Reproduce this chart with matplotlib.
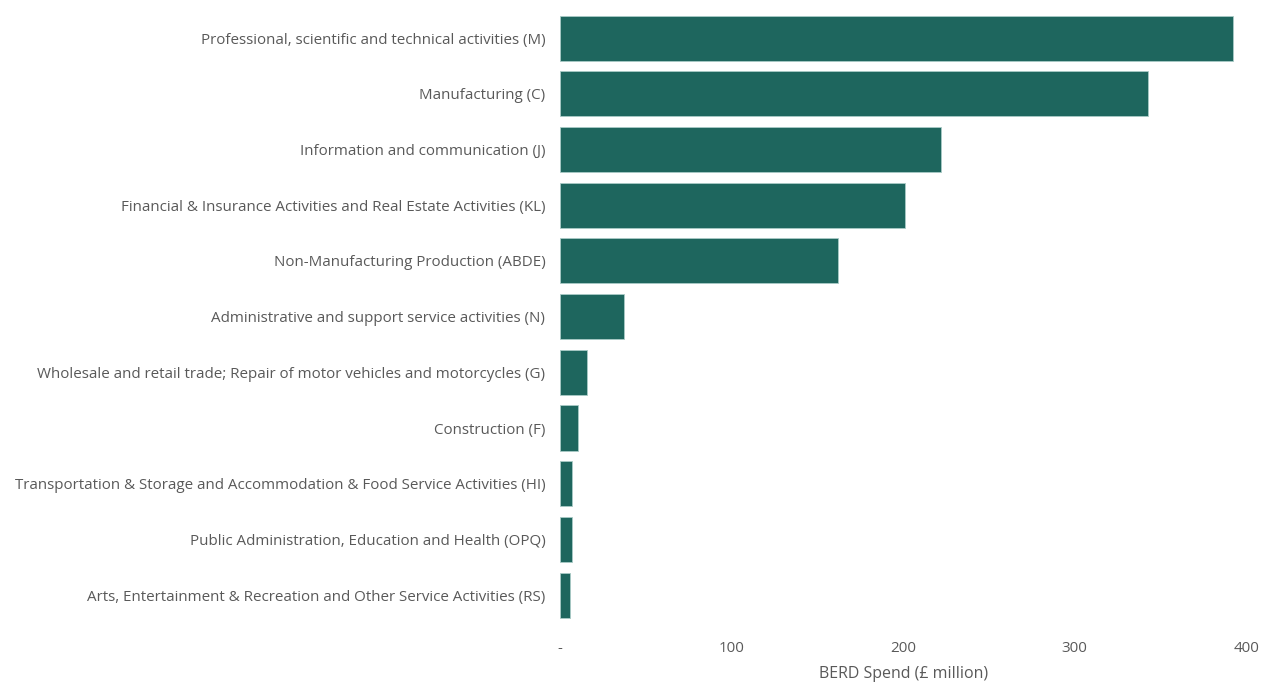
import matplotlib as mpl
mpl.use('Agg')
import matplotlib.pyplot as plt

# BERD spend by industry group, £ million
industries = [
    'Professional, scientific and technical activities (M)',
    'Manufacturing (C)',
    'Information and communication (J)',
    'Financial & Insurance Activities and Real Estate Activities (KL)',
    'Non-Manufacturing Production (ABDE)',
    'Administrative and support service activities (N)',
    'Wholesale and retail trade; Repair of motor vehicles and motorcycles (G)',
    'Construction (F)',
    'Transportation & Storage and Accommodation & Food Service Activities (HI)',
    'Public Administration, Education and Health (OPQ)',
    'Arts, Entertainment & Recreation and Other Service Activities (RS)',
]
spend = [392, 343, 222, 201, 162, 37.5, 15.5, 10.7, 6.8, 6.8, 5.8]

xticks = [0, 100, 200, 300, 400]
xticklabels = ['-', '100', '200', '300', '400']

bar_colour = '#1e665e'
text_colour = '#595959'
font = ['Open Sans', 'DejaVu Sans']

fig = plt.figure(figsize=(12.64, 6.82), dpi=100)
ax = fig.add_axes([0.443, 0.0865, 0.543, 0.8985])

ypos = list(range(len(industries)))
ax.barh(ypos, spend, height=0.81, color=bar_colour,
        edgecolor='#a9cbc6', linewidth=0.6)
ax.set_ylim(len(industries) - 0.5, -0.5)
ax.set_xlim(0, 400)

ax.set_yticks(ypos)
ax.set_yticklabels(industries, fontsize=10.9, color=text_colour, family=font)
ax.set_xticks(xticks)
ax.set_xticklabels(xticklabels, fontsize=10.9, color=text_colour, family=font)
ax.tick_params(axis='both', length=0)
ax.tick_params(axis='y', pad=10.5)
ax.tick_params(axis='x', pad=13)

ax.set_xlabel('BERD Spend (£ million)', fontsize=11.5, color=text_colour,
              family=font, labelpad=7)

for side in ax.spines.values():
    side.set_visible(False)

fig.savefig('out.png', dpi=100)
